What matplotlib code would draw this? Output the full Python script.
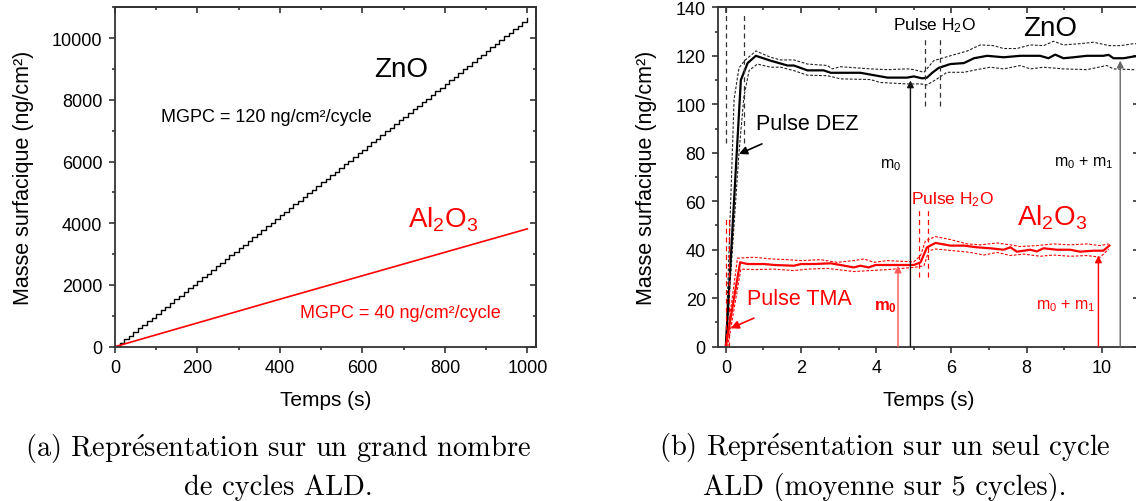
import matplotlib.pyplot as plt
from matplotlib.ticker import MultipleLocator

plt.rcParams['font.family'] = ['Liberation Sans', 'DejaVu Sans']
plt.rcParams['mathtext.fontset'] = 'custom'
plt.rcParams['mathtext.rm'] = 'Liberation Sans'
plt.rcParams['mathtext.it'] = 'Liberation Sans:italic'
plt.rcParams['mathtext.bf'] = 'Liberation Sans:bold'
plt.rcParams['mathtext.default'] = 'regular'

RED = '#ff0000'

# ---- (a) many ALD cycles ----
zno_step_t = [
    0, 11.1, 22.2, 33.3, 44.4, 55.5, 66.6, 77.7, 88.8, 99.9,
    111.0, 122.1, 133.2, 144.3, 155.4, 166.5, 177.6, 188.7, 199.8, 210.9,
    222.0, 233.1, 244.2, 255.3, 266.4, 277.5, 288.6, 299.7, 310.8, 321.9,
    333.0, 344.1, 355.2, 366.3, 377.4, 388.5, 399.6, 410.7, 421.8, 432.9,
    444.0, 455.1, 466.2, 477.3, 488.4, 499.5, 510.6, 521.7, 532.8, 543.9,
    555.0, 566.1, 577.2, 588.3, 599.4, 610.5, 621.6, 632.7, 643.8, 654.9,
    666.0, 677.1, 688.2, 699.3, 710.4, 721.5, 732.6, 743.7, 754.8, 765.9,
    777.0, 788.1, 799.2, 810.3, 821.4, 832.5, 843.6, 854.7, 865.8, 876.9,
    888.0, 899.1, 910.2, 921.3, 932.4, 943.5, 954.6, 965.7, 976.8, 987.9,
    999.0]
zno_step_m = [
    0, 118, 237, 355, 473, 592, 710, 828, 946, 1065,
    1183, 1301, 1420, 1538, 1656, 1775, 1893, 2011, 2129, 2248,
    2366, 2484, 2603, 2721, 2839, 2958, 3076, 3194, 3312, 3431,
    3549, 3667, 3786, 3904, 4022, 4141, 4259, 4377, 4495, 4614,
    4732, 4850, 4969, 5087, 5205, 5324, 5442, 5560, 5678, 5797,
    5915, 6033, 6152, 6270, 6388, 6507, 6625, 6743, 6861, 6980,
    7098, 7216, 7335, 7453, 7571, 7690, 7808, 7926, 8044, 8163,
    8281, 8399, 8518, 8636, 8754, 8873, 8991, 9109, 9227, 9346,
    9464, 9582, 9701, 9819, 9937, 10056, 10174, 10292, 10410, 10529,
    10647]
al_long_t = [0, 200, 400, 600, 800, 1000]
al_long_m = [0, 770, 1540, 2300, 3060, 3820]

# ---- (b) one ALD cycle (mean over 5 cycles) ----
zno_t = [0, 0.2, 0.4, 0.58, 0.8, 1.19, 1.64, 1.81, 2.17, 2.6, 2.79, 3.58, 3.94,
         4.3, 4.82, 5.0, 5.22, 5.35, 5.49, 5.66, 5.97, 6.33, 6.6, 6.95, 7.39,
         7.83, 8.36, 8.58, 8.76, 8.98, 9.25, 9.6, 10.04, 10.18, 10.31, 10.58,
         10.84, 11.0]
zno_m = [0, 55, 110, 117, 120, 118, 116, 116, 114, 114, 113, 113, 112,
         111, 111, 111.5, 110.7, 111, 113, 115, 116.6, 117, 119, 120, 119.4,
         120, 120, 119, 120.5, 119, 119.4, 120, 120, 120.4, 119, 119,
         119.7, 120]
zno_hi_t = [0, 0.22, 0.35, 0.5, 0.8, 1.19, 1.46, 1.81, 2.17, 2.7, 2.83, 3.05,
            3.85, 4.3, 4.82, 5.0, 5.27, 5.53, 5.97, 6.42, 6.77, 7.12, 7.39,
            7.74, 8.1, 8.45, 8.72, 8.98, 9.42, 9.78, 10.2, 10.5, 10.84, 11.0]
zno_hi_m = [0, 102, 115, 118, 122, 119.4, 118.3, 118.3, 116.6, 116, 114.6,
            115.5, 114.6, 114.3, 114.6, 114.3, 113.2, 118, 120, 122, 124.5,
            124.2, 123, 123, 124.5, 124.2, 126, 124.5, 125, 125.6, 124.2,
            124.2, 125, 125]
zno_lo_t = [0, 0.35, 0.48, 0.62, 0.84, 1.19, 1.46, 1.81, 2.17, 2.7, 3.05,
            3.85, 4.1, 4.82, 5.18, 5.35, 5.62, 5.88, 6.33, 6.68, 7.03, 7.39,
            7.83, 8.1, 8.45, 8.98, 9.6, 10.13, 10.31, 10.84, 11.0]
zno_lo_m = [0, 80, 103, 114, 116.6, 115.3, 115.3, 113.9, 112, 111.8, 110.5,
            110.2, 109, 108.4, 108.4, 108, 110.5, 113.2, 113.2, 114.3, 115.3,
            114.6, 116, 114.6, 115.3, 114.6, 114.3, 116, 114.6, 114.3, 114.3]

al_t = [0, 0.38, 0.58, 1.02, 1.3, 1.81, 2.0, 2.35, 2.79, 3.05, 3.4, 3.58,
        3.8, 3.98, 4.65, 5.0, 5.18, 5.35, 5.58, 5.97, 6.33, 6.68, 7.03, 7.39,
        7.57, 7.74, 8.1, 8.27, 8.45, 8.8, 9.16, 9.42, 9.78, 10.04, 10.2]
al_m = [0, 34.8, 34.1, 34.1, 33.7, 33.4, 34.1, 34.1, 34.4, 33.7, 32.7, 33.4,
        32.7, 33.7, 33.7, 33.7, 34.8, 41, 42.8, 41.7, 41.7, 41, 40.6, 40,
        41, 39.2, 40, 39.3, 40.6, 40, 40, 39.2, 39.6, 39.6, 41.7]
al_hi_t = [0, 0.31, 0.75, 1.2, 1.64, 2.0, 2.52, 2.96, 3.4, 3.67, 3.94, 4.3,
           5.0, 5.18, 5.31, 5.58, 5.97, 6.42, 6.77, 7.21, 7.57, 7.83, 8.27,
           8.72, 9.16, 9.6, 9.96, 10.18]
al_hi_m = [0, 36.5, 36.9, 36.2, 35.9, 35.5, 35.9, 34.8, 35.5, 36.2, 34.8,
           35.5, 35, 37.6, 43.7, 45.4, 44.2, 42.4, 42, 42.8, 42, 41.3, 41.7,
           42.4, 42, 42.4, 41.7, 42.4]
al_lo_t = [0.05, 0.4, 0.75, 1.28, 1.81, 2.17, 2.7, 3.4, 3.85, 4.3, 5.0, 5.27,
           5.4, 5.58, 6.06, 6.5, 6.86, 7.21, 7.57, 7.92, 8.36, 8.72, 9.16,
           9.6, 9.96, 10.18]
al_lo_m = [0, 32, 31.8, 32, 31.4, 32, 32.3, 31, 31.4, 31.8, 32.7, 33.4,
           39.6, 40.3, 39.6, 38.9, 37.8, 38.9, 37.6, 38.2, 37.3, 37.8, 37.3,
           37.6, 36.9, 40.3]

# pulse markers: (t, m_bottom, m_top)
zno_pulses = [(0.0, 84, 140), (0.49, 84, 137), (5.29, 99.4, 128), (5.69, 99.4, 128)]
al_pulses = [(0.0, 0, 54), (0.09, 0, 54), (5.15, 28.6, 56.8), (5.37, 28.6, 56.8)]

# vertical arrows: (t, m_top, colour)
mass_arrows = [(4.91, 109.8, '#111111'), (10.49, 118.0, '#666666'),
               (4.58, 33.4, '#ff5555'), (9.91, 37.6, RED)]


def style_axes(ax, xmaj, xmin, ymaj, ymin):
    for sp in ax.spines.values():
        sp.set_color('#333333')
        sp.set_linewidth(1.3)
    ax.xaxis.set_major_locator(MultipleLocator(xmaj))
    ax.xaxis.set_minor_locator(MultipleLocator(xmin))
    ax.yaxis.set_major_locator(MultipleLocator(ymaj))
    ax.yaxis.set_minor_locator(MultipleLocator(ymin))
    ax.tick_params(which='both', direction='out', width=1.2, colors='#333333',
                   labelcolor='black', labelsize=13, pad=4.5)
    ax.tick_params(which='major', length=4.5)
    ax.tick_params(which='minor', length=2.5)
    top = ax.secondary_xaxis('top')
    right = ax.secondary_yaxis('right')
    top.xaxis.set_major_locator(MultipleLocator(xmaj))
    top.xaxis.set_minor_locator(MultipleLocator(xmin))
    right.yaxis.set_major_locator(MultipleLocator(ymaj))
    right.yaxis.set_minor_locator(MultipleLocator(ymin))
    for sec in (top, right):
        sec.tick_params(which='both', direction='in', width=1.2, colors='#333333',
                        labeltop=False, labelright=False)
        sec.tick_params(which='major', length=4.5)
        sec.tick_params(which='minor', length=2.5)
        for sp in sec.spines.values():
            sp.set_color('#333333')
            sp.set_linewidth(1.3)


fig = plt.figure(figsize=(11.36, 5.02), dpi=100)

# ---------------- (a) ----------------
ax1 = fig.add_axes([0.1012, 0.3074, 0.3703, 0.676])
ax1.plot(zno_step_t, zno_step_m, drawstyle='steps-post', color='black', lw=1.0)
ax1.plot(al_long_t, al_long_m, color=RED, lw=1.2)
ax1.set_xlim(0, 1020)
ax1.set_ylim(0, 11000)
style_axes(ax1, 200, 100, 2000, 1000)
ax1.set_xlabel('Temps (s)', fontsize=15, labelpad=10)
ax1.set_ylabel('Masse surfacique (ng/cm²)', fontsize=15.5, labelpad=13)

ax1.text(695, 9000, 'ZnO', fontsize=20, ha='center', va='center')
ax1.text(366, 7450, 'MGPC = 120 ng/cm²/cycle', fontsize=13,
         ha='center', va='center')
ax1.text(795, 4140, r'Al$_2$O$_3$', fontsize=20, color=RED,
         ha='center', va='center')
ax1.text(691, 1120, 'MGPC = 40 ng/cm²/cycle', fontsize=13, color=RED,
         ha='center', va='center')

# ---------------- (b) ----------------
ax2 = fig.add_axes([0.6323, 0.3074, 0.3707, 0.676])
dash = (0, (2.5, 1.5))
ax2.plot(zno_hi_t, zno_hi_m, color='#222222', lw=0.8, ls=dash)
ax2.plot(zno_lo_t, zno_lo_m, color='#222222', lw=0.8, ls=dash)
ax2.plot(zno_t, zno_m, color='black', lw=1.6)
ax2.plot(al_hi_t, al_hi_m, color=RED, lw=0.8, ls=dash)
ax2.plot(al_lo_t, al_lo_m, color=RED, lw=0.8, ls=dash)
ax2.plot(al_t, al_m, color=RED, lw=1.6)

for t, m0, m1 in zno_pulses:
    ax2.plot([t, t], [m0, m1], color='#333333', lw=0.9, ls=(0, (4, 3)))
for t, m0, m1 in al_pulses:
    ax2.plot([t, t], [m0, m1], color=RED, lw=0.9, ls=(0, (4, 3)))

for t, m, c in mass_arrows:
    ax2.annotate('', xy=(t, m), xytext=(t, 0),
                 arrowprops=dict(arrowstyle='-|>', color=c, lw=1.0,
                                 mutation_scale=10, shrinkA=0, shrinkB=0))

ax2.set_xlim(-0.2, 11)
ax2.set_ylim(0, 140)
style_axes(ax2, 2, 1, 20, 10)
ax2.set_xlabel('Temps (s)', fontsize=15, labelpad=10)
ax2.set_ylabel('Masse surfacique (ng/cm²)', fontsize=15.5, labelpad=13)

ax2.text(5.55, 132.7, r'Pulse H$_2$O', fontsize=12.5, ha='center', va='center')
ax2.text(8.63, 131.4, 'ZnO', fontsize=20, ha='center', va='center')
ax2.annotate('Pulse DEZ', xy=(0.35, 79.5), xytext=(2.17, 91.9),
             fontsize=15.5, ha='center', va='center',
             arrowprops=dict(arrowstyle='-|>', color='black', lw=1.2,
                             mutation_scale=12, shrinkA=12, shrinkB=0))
ax2.text(4.38, 75.4, r'm$_0$', fontsize=11.5, ha='center', va='center')
ax2.text(9.51, 76.0, r'm$_0$ + m$_1$', fontsize=11.5, ha='center', va='center')

ax2.text(6.02, 61.0, r'Pulse H$_2$O', fontsize=12.5, color=RED,
         ha='center', va='center')
ax2.text(8.67, 53.4, r'Al$_2$O$_3$', fontsize=20, color=RED,
         ha='center', va='center')
ax2.annotate('Pulse TMA', xy=(0.13, 7.6), xytext=(1.96, 20.0),
             fontsize=15.5, color=RED, ha='center', va='center',
             arrowprops=dict(arrowstyle='-|>', color=RED, lw=1.2,
                             mutation_scale=12, shrinkA=12, shrinkB=0))
ax2.text(4.25, 16.6, r'$\mathbf{m_0}$', fontsize=12, color=RED,
         ha='center', va='center')
ax2.text(9.03, 17.2, r'm$_0$ + m$_1$', fontsize=11.5, color=RED,
         ha='center', va='center')

# ---------------- captions ----------------
cap_font = ['cmr10', 'DejaVu Serif']
e_acute = r'$\acute{\mathrm{e}}$'
fig.text(0.2452, 0.0701,
         '(a) Repr' + e_acute + 'sentation sur un grand nombre\nde cycles ALD.',
         family=cap_font, math_fontfamily='cm', fontsize=20.5,
         ha='center', va='center', linespacing=1.38)
fig.text(0.779, 0.0701,
         '(b) Repr' + e_acute + 'sentation sur un seul cycle\nALD (moyenne sur 5 cycles).',
         family=cap_font, math_fontfamily='cm', fontsize=20.5,
         ha='center', va='center', linespacing=1.38)

fig.savefig('out.png', dpi=100)
